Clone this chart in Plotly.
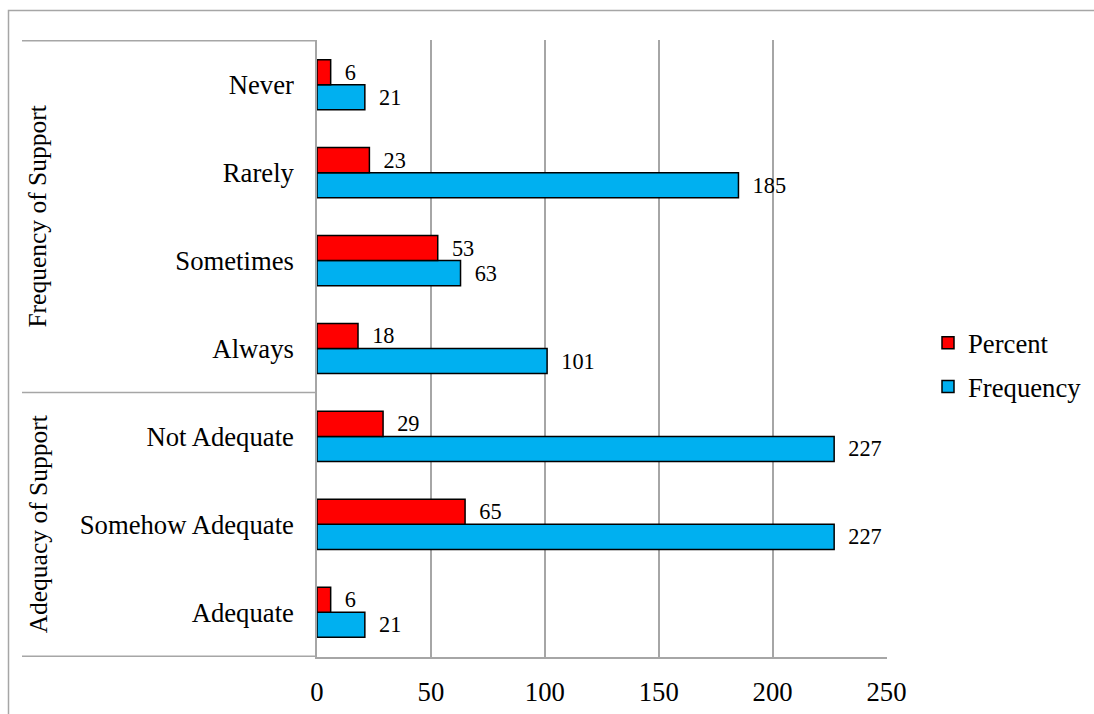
import plotly.graph_objects as go

# Survey responses, listed bottom-to-top as they appear on the axis
categories = ["Adequate", "Somehow Adequate", "Not Adequate",
              "Always", "Sometimes", "Rarely", "Never"]
frequency = [21, 227, 227, 101, 63, 185, 21]
percent = [6, 65, 29, 18, 53, 23, 6]

# Outer category groups (bottom-to-top) and how many categories each spans
group_names = ["Adequacy of Support", "Frequency of Support"]
group_sizes = [3, 4]

x_ticks = [0, 50, 100, 150, 200, 250]

FONT = "Liberation Serif"
FS = 26.7
GRID = "#A6A6A6"
NBSP = "\u00a0"

# Plot-area pixel geometry inside the 1094x714 canvas
W, H = 1094, 714
L, R, T, B = 317, 887, 40, 657


def px_x(p):
    return (p - L) / (R - L)


def px_y(p):
    return (B - p) / (B - T)


def bar_labels(values):
    return [NBSP * 2 + str(v) for v in values]


fig = go.Figure()
fig.add_trace(go.Bar(
    y=categories, x=frequency, orientation="h", name="Frequency",
    marker=dict(color="#00B0F0", line=dict(color="black", width=1.5)),
    text=bar_labels(frequency), textposition="outside",
    textfont=dict(family=FONT, size=FS, color="black"),
    cliponaxis=False, legendgroup="freq", legendrank=2,
))
fig.add_trace(go.Bar(
    y=categories, x=percent, orientation="h", name="Percent",
    marker=dict(color="#FF0000", line=dict(color="black", width=1.5)),
    text=bar_labels(percent), textposition="outside",
    textfont=dict(family=FONT, size=FS, color="black"),
    cliponaxis=False, legendgroup="pct", legendrank=1,
))

shapes = []
annotations = []

# Outer chart border; its right and bottom edges run past the canvas
shapes.append(dict(type="rect", xref="paper", yref="paper",
                   x0=px_x(8.5), x1=px_x(W + 20),
                   y0=px_y(H + 20), y1=px_y(10.5),
                   fillcolor="rgba(0,0,0,0)",
                   line=dict(color=GRID, width=1.5)))

# Group separators and rotated group labels
edges = [-0.5]
for s in group_sizes:
    edges.append(edges[-1] + s)
for i, name in enumerate(group_names):
    annotations.append(dict(
        text=name, textangle=-90, xref="paper", yref="y",
        x=px_x(38), y=(edges[i] + edges[i + 1]) / 2,
        showarrow=False, xanchor="center", yanchor="middle",
        font=dict(family=FONT, size=25.5, color="black")))
for e in edges:
    shapes.append(dict(type="line", xref="paper", yref="y",
                       x0=px_x(22), x1=0, y0=e, y1=e,
                       line=dict(color=GRID, width=1.5)))

fig.update_layout(
    width=W, height=H,
    margin=dict(l=L, r=W - R, t=T, b=H - B, autoexpand=False),
    paper_bgcolor="white", plot_bgcolor="white",
    barmode="group", bargap=0.43, bargroupgap=0,
    font=dict(family=FONT, size=FS, color="black"),
    shapes=shapes, annotations=annotations,
    legend=dict(x=px_x(928), y=px_y(365), xanchor="left", yanchor="middle",
                traceorder="grouped", tracegroupgap=6,
                font=dict(family=FONT, size=FS, color="black"),
                bgcolor="rgba(0,0,0,0)"),
    xaxis=dict(range=[0, 250.2], tickvals=x_ticks, showgrid=True,
               gridcolor=GRID, gridwidth=1.5, zeroline=False,
               showline=True, linecolor=GRID, linewidth=1.5, mirror=False,
               ticks="", ticklabelstandoff=10,
               tickfont=dict(family=FONT, size=FS, color="black")),
    yaxis=dict(categoryorder="array", categoryarray=categories,
               showgrid=False, zeroline=False,
               showline=True, linecolor=GRID, linewidth=1.5,
               ticks="", ticklabelstandoff=16,
               tickfont=dict(family=FONT, size=FS, color="black")),
)

fig.write_html("out.html")
